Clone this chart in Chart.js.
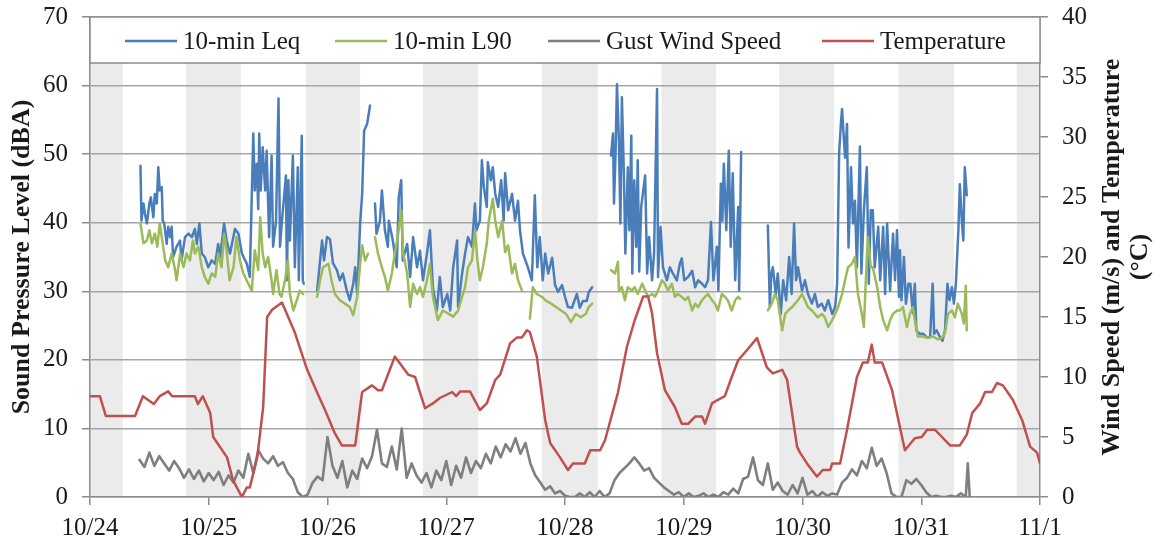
<!DOCTYPE html>
<html>
<head>
<meta charset="utf-8">
<script src="https://cdn.jsdelivr.net/npm/chart.js@4.4.1/dist/chart.umd.min.js"></script>
<style>
html,body{margin:0;padding:0;background:#fff;}
canvas{display:block;}
</style>
</head>
<body>
<canvas id="c" width="1163" height="544"></canvas>
<script>
// ---------- DATA (time = hours since 10/24 00:00) ----------
const dateLabels = ['10/24','10/25','10/26','10/27','10/28','10/29','10/30','10/31','11/1'];
const nightBands = [[0,6.6],[19.4,30.5],[43.6,54.6],[67.3,78.5],[91.3,102.6],[115.5,126.5],[139.3,150.4],[163.4,174.6],[187.3,192]];
const seriesNames = ['10-min Leq','10-min L90','Gust Wind Speed','Temperature'];

const leq = [
[10.2,48.3],[10.4,40.3],[10.8,42.8],[11.1,41.3],[11.5,39.9],[12.0,42.8],[12.3,43.7],[12.8,40.8],[13.1,44.2],[13.5,42.8],[13.8,48.1],[14.1,44.7],[14.5,45.2],[14.7,40.3],[15.0,39.9],[15.5,36.9],[15.8,39.4],[16.2,37.9],[16.5,39.4],[16.8,35.0],[17.5,36.5],[18.2,37.4],[18.5,34.5],[19.2,37.9],[19.9,38.4],[20.6,37.9],[21.2,39.1],[21.6,36.9],[22.1,39.9],[22.6,35.5],[23.2,35.0],[23.9,33.5],[24.6,34.5],[25.3,34.0],[25.9,36.9],[26.3,35.0],[27.1,39.9],[27.6,37.4],[28.3,35.5],[29.3,39.1],[30.0,38.4],[30.7,35.5],[31.7,34.0],[32.3,32.1],[33.0,53.0],[33.3,44.7],[33.7,48.6],[34.0,42.0],[34.2,53.0],[34.5,44.7],[34.9,51.0],[35.4,44.7],[35.7,50.5],[36.2,37.9],[36.7,49.8],[37.0,36.5],[37.6,40.3],[38.1,58.1],[38.4,36.5],[38.8,40.3],[39.6,46.9],[39.8,31.6],[40.1,46.2],[40.4,37.4],[41.0,49.8],[41.4,33.5],[42.0,48.1],[42.2,31.6],[42.8,52.7],[43.0,31.6],[43.2,31.1],
[44.0,null],
[45.9,30.1],[46.9,37.4],[47.3,34.5],[47.9,37.9],[48.5,37.6],[49.1,34.1],[49.9,33.1],[50.5,31.6],[51.1,32.6],[51.9,30.1],[52.5,28.7],[53.2,31.1],[53.6,33.5],[54.0,29.6],[54.6,39.9],[55.0,44.2],[55.4,53.4],[56.0,54.4],[56.6,57.1],
[57.1,null],
[57.6,42.8],[57.9,38.4],[58.6,40.3],[59.0,44.7],[59.6,38.9],[60.2,36.5],[60.4,40.3],[61.2,37.4],[62.0,33.5],[62.4,43.7],[62.9,46.2],[63.2,34.5],[64.1,36.9],[64.7,32.1],[65.3,37.9],[66.1,33.5],[66.7,35.9],[67.3,31.6],[68.1,35.5],[68.7,38.9],[69.3,30.6],[70.1,27.2],[70.7,32.1],[71.3,27.7],[72.2,29.6],[72.8,27.2],[73.4,33.5],[74.2,37.4],[74.4,27.7],[75.2,32.6],[75.8,35.5],[76.4,37.9],[77.2,36.5],[77.8,42.8],[78.1,38.9],[78.8,40.3],[79.2,49.1],[79.6,45.2],[80.2,42.3],[80.4,48.8],[81.0,46.2],[81.4,48.1],[81.9,44.2],[82.5,42.3],[83.1,46.2],[83.6,40.3],[83.9,47.2],[84.5,41.8],[85.3,44.2],[85.9,40.3],[86.5,43.2],[86.9,38.9],[87.5,35.5],[88.5,33.5],[89.3,31.6],[89.9,44.0],[90.4,33.5],[90.9,37.9],[91.5,31.6],[92.0,35.5],[92.6,32.6],[93.4,34.9],[94.0,30.9],[94.6,29.9],[95.4,30.9],[96.0,29.2],[96.6,27.7],[97.4,27.6],[98.4,29.6],[99.0,27.6],[99.6,28.6],[100.4,28.6],[100.8,29.9],[101.5,30.6],
[103.0,null],
[105.3,49.8],[105.7,53.0],[105.9,42.8],[106.2,49.6],[106.5,60.2],[106.9,52.0],[107.2,39.9],[107.5,58.3],[107.9,47.1],[108.2,35.5],[108.7,48.1],[109.0,38.9],[109.4,52.7],[109.6,32.6],[110.0,46.2],[110.4,36.5],[110.7,49.1],[111.0,32.9],[111.4,42.3],[112.2,46.9],[112.6,32.6],[113.0,37.9],[113.6,31.6],[114.0,35.5],[114.6,59.5],[114.8,32.1],[115.3,39.4],[115.8,33.5],[116.6,31.6],[117.2,33.5],[117.8,32.6],[118.6,31.6],[119.2,34.0],[119.6,34.8],[120.1,31.6],[120.9,32.1],[121.7,33.0],[122.3,30.6],[122.9,31.6],[123.7,31.1],[124.3,30.6],[124.9,31.6],[125.5,40.1],[126.0,31.6],[126.7,36.5],[127.0,30.1],[127.5,45.7],[127.8,40.3],[128.1,48.6],[128.6,38.9],[129.1,50.5],[129.5,36.5],[129.9,47.2],[130.4,31.6],[131.0,42.3],[131.2,30.1],[131.6,50.3],
[134.0,null],
[137.0,39.6],[137.4,27.7],[137.7,32.6],[138.0,33.5],[138.6,29.6],[139.0,32.6],[139.6,26.7],[140.1,31.6],[140.7,28.7],[141.3,35.0],[141.8,29.6],[142.3,39.9],[142.7,31.6],[143.1,33.5],[143.9,30.1],[144.5,31.6],[145.1,29.6],[145.9,28.2],[146.5,29.6],[147.1,27.7],[147.9,28.2],[148.5,27.2],[149.2,28.7],[150.0,26.7],[150.6,27.7],[151.0,31.1],[151.4,50.1],[151.8,54.9],[152.0,56.6],[152.3,52.9],[152.6,49.5],[153.0,54.4],[153.3,36.4],[153.8,48.1],[154.2,39.9],[154.6,43.2],[155.0,33.5],[155.6,51.1],[155.9,32.6],[156.4,41.8],[157.0,48.1],[157.4,31.1],[157.8,41.8],[158.2,41.8],[158.6,33.5],[159.3,39.4],[159.7,31.6],[160.3,39.4],[160.7,29.6],[161.1,39.9],[161.7,30.1],[162.3,38.4],[162.7,31.6],[163.1,38.9],[163.5,29.2],[163.7,36.0],[164.0,28.7],[164.5,35.0],[164.9,28.2],[165.4,31.1],[165.8,31.1],[166.3,26.8],[166.7,31.1],[167.0,24.3],[167.7,23.8],[168.4,23.8],[169.1,23.3],[169.8,23.3],[170.3,31.1],[170.6,23.8],[171.1,24.3],[171.8,23.3],[172.3,22.8],[172.8,24.3],[173.3,31.1],[173.7,28.7],[174.2,30.6],[174.6,28.2],[175.0,31.1],[175.5,38.9],[175.8,45.6],[176.2,40.3],[176.5,37.4],[176.8,48.1],[177.2,44.0]
];

const l90 = [
[10.2,39.9],[10.8,37.0],[11.5,37.4],[12.0,38.9],[12.5,37.0],[13.1,38.4],[13.6,36.5],[14.1,39.9],[14.5,37.9],[15.2,34.5],[15.8,33.5],[16.5,35.5],[17.2,33.1],[17.5,31.6],[18.2,35.5],[18.9,33.5],[19.5,35.5],[20.2,34.5],[20.8,37.4],[21.2,35.5],[21.9,36.5],[22.6,33.5],[23.2,32.1],[23.9,31.1],[24.6,32.6],[25.3,32.1],[25.9,35.5],[26.6,33.5],[27.1,38.4],[27.6,36.0],[28.2,31.6],[29.0,33.5],[29.6,37.9],[30.3,34.5],[31.0,32.6],[32.0,31.1],[32.7,30.1],[33.3,36.0],[34.0,33.1],[34.4,40.8],[34.9,35.5],[35.4,33.5],[36.0,35.0],[36.7,31.6],[37.0,29.6],[37.7,33.1],[38.3,29.6],[38.7,29.2],[39.4,31.6],[40.0,34.5],[40.4,29.6],[41.1,27.2],[41.8,28.7],[42.4,30.1],[43.1,29.6],
[44.0,null],
[45.9,29.2],[46.5,31.6],[47.1,33.5],[48.2,34.0],[48.8,31.6],[49.5,29.6],[50.5,28.7],[51.5,28.2],[52.5,27.7],[53.2,26.5],[54.0,29.2],[54.6,34.0],[55.0,36.7],[55.6,34.5],[56.2,35.5],
[57.1,null],
[57.6,37.9],[58.2,35.5],[59.0,33.5],[59.6,32.1],[60.2,30.1],[61.0,32.6],[61.6,35.5],[62.2,37.9],[62.9,41.8],[63.3,35.5],[64.1,32.6],[64.7,27.7],[65.3,31.1],[66.1,29.6],[66.7,30.6],[67.3,29.2],[68.1,31.6],[68.7,34.0],[69.3,29.2],[70.3,25.8],[71.3,27.2],[72.3,26.8],[73.4,26.3],[74.4,27.2],[75.2,29.2],[75.8,30.6],[76.4,33.5],[77.2,34.5],[77.8,38.9],[78.3,34.5],[78.8,31.6],[79.4,33.5],[80.2,37.0],[80.6,40.3],[81.4,43.5],[81.9,40.3],[82.5,37.9],[83.3,40.3],[83.9,35.7],[84.5,36.7],[85.3,32.6],[85.9,34.0],[86.5,31.6],[87.3,30.1],
[88.0,null],
[88.9,26.0],[89.5,30.6],[90.3,29.6],[91.3,29.2],[92.2,28.6],[93.2,28.2],[94.2,27.7],[95.2,27.2],[96.2,26.7],[97.2,25.5],[98.2,26.7],[99.2,26.2],[100.2,26.7],[100.8,27.7],[101.5,28.2],
[103.0,null],
[105.3,33.1],[106.1,32.6],[106.7,34.3],[106.9,30.1],[107.5,30.6],[108.1,28.7],[108.7,30.6],[109.5,30.1],[110.1,30.6],[110.7,29.6],[111.6,31.1],[112.2,30.1],[112.8,29.2],[113.6,29.6],[114.2,29.2],[114.8,30.1],[115.6,31.6],[116.2,31.1],[116.8,30.1],[117.6,31.1],[118.2,29.2],[118.8,29.6],[119.6,29.2],[120.3,28.7],[120.9,29.2],[121.7,27.2],[122.3,28.2],[122.9,27.7],[123.7,28.7],[124.3,29.2],[124.9,29.6],[125.7,28.7],[126.3,28.2],[126.9,27.2],[127.7,29.6],[128.3,29.2],[128.9,28.7],[129.7,27.2],[130.4,28.7],[131.0,29.2],[131.4,28.9],
[134.0,null],
[137.0,27.2],[137.8,28.2],[138.4,29.6],[139.0,28.7],[139.9,24.3],[140.5,26.7],[141.1,27.2],[141.9,27.7],[142.5,28.2],[143.1,28.7],[143.9,29.6],[144.5,28.7],[145.1,27.7],[145.9,27.2],[146.5,26.7],[147.1,26.2],[147.9,26.7],[148.5,26.2],[149.2,24.8],[150.0,25.8],[150.6,26.7],[151.2,27.7],[152.0,29.6],[152.6,31.6],[153.2,33.5],[154.0,34.0],[154.6,35.0],[155.2,29.6],[156.0,26.7],[156.4,24.8],[156.8,31.6],[157.2,37.9],[157.8,33.5],[158.2,33.5],[159.1,30.6],[159.7,27.7],[160.3,25.8],[161.1,24.3],[161.7,25.8],[162.3,26.7],[163.1,27.2],[163.7,27.2],[164.3,27.7],[165.1,24.8],[165.7,26.7],[166.3,27.7],[166.7,25.8],[167.3,23.4],[168.3,23.4],[169.4,23.2],[170.4,23.4],[171.4,23.0],[172.2,23.2],[172.8,23.9],[173.4,26.7],[174.2,27.2],[174.8,26.2],[175.4,28.2],[176.2,26.7],[176.6,25.3],[177.0,30.8],[177.2,24.3]
];

// hourly gust wind speed (m/s), first value at hour 10
const gustStartHour = 10;
const gust = [
3.1,2.5,3.7,2.6,3.4, 2.8,2.2,3.0,2.4,1.6, 2.3,1.5,2.2,1.3,2.0, 1.4,2.1,1.0,1.8,1.2,
2.2,1.6,3.6,2.0,3.9, 3.2,2.8,3.4,2.6,2.9, 2.0,1.5,0.4,0.0,0.2, 1.2,1.7,1.4,5.0,2.6,
1.6,3.0,0.8,2.2,1.5, 3.2,2.4,3.4,5.6,2.8, 2.5,4.2,2.3,5.7,1.6, 2.8,1.8,1.2,2.0,0.8,
2.2,1.4,3.0,1.0,2.6, 1.6,3.3,2.0,3.0,2.4, 3.6,2.8,4.2,3.3,4.4, 3.8,4.9,3.6,4.5,2.8,
1.8,1.2,0.6,0.9,0.3, 0.5,0.1,0.0,0.0,0.3, 0.0,0.4,0.0,0.5,0.0, 0.3,1.4,2.0,2.4,2.8,
3.3,2.8,2.2,2.4,1.6, 1.2,0.8,0.5,0.2,0.4, 0.0,0.3,0.0,0.1,0.3, 0.0,0.2,0.0,0.4,0.2,
0.7,0.3,1.5,1.7,3.3, 1.4,1.0,2.8,0.6,1.2, 0.5,0.2,1.0,0.3,1.6, 0.2,0.5,0.0,0.4,0.1,
0.3,0.2,1.2,1.6,2.3, 1.8,3.0,2.4,4.1,2.6, 3.2,2.0,0.3,0.0,0.0, 1.4,1.1,1.5,1.0,0.4,
0.0,0.1,0.0,0.0,0.1, 0.0,0.3,0.0
];
const gustTail = [[177.4,2.8],[177.8,0.0]];

const temperature = [
[0,8.4],[2.0,8.4],[3.2,6.75],[9.1,6.75],[10.7,8.4],[12.9,7.75],[14.1,8.4],[15.8,8.8],[16.6,8.4],[21.2,8.4],[21.8,7.75],[22.8,8.4],[24.3,7.0],[24.9,5.0],[27.7,3.3],[28.9,1.4],[30.7,0],[31.7,0.8],[32.3,0.8],[33.8,3.3],[35.0,7.5],[35.8,15.0],[36.8,15.6],[38.8,16.2],[41.4,13.7],[43.9,10.6],[45.9,8.7],[47.5,7.25],[49.5,5.3],[50.9,4.3],[53.6,4.3],[55.0,8.75],[57.0,9.3],[58.2,8.9],[59.0,8.9],[61.6,11.7],[64.3,10.2],[65.7,10.0],[67.7,7.4],[69.3,7.8],[70.7,8.25],[73.2,8.75],[74.0,8.4],[74.8,8.8],[76.8,8.8],[78.8,7.25],[80.2,7.8],[81.9,9.75],[82.9,10.2],[84.9,12.8],[86.3,13.3],[87.3,13.3],[88.3,13.9],[88.9,13.75],[90.3,11.7],[92.0,6.4],[93.0,4.5],[95.0,3.3],[96.6,2.25],[97.6,2.8],[100.0,2.8],[101.1,3.9],[103.1,3.9],[104.1,4.75],[106.7,8.7],[108.5,12.5],[110.1,14.75],[111.8,16.7],[112.8,16.7],[113.6,15.3],[114.6,12],[116.2,8.9],[118.2,7.5],[119.6,6.1],[120.9,6.1],[122.3,6.7],[123.7,6.7],[124.3,6.1],[125.7,7.8],[126.9,8.1],[128.3,8.4],[129.7,10],[131.0,11.4],[132.8,12.25],[134.8,13.25],[136.8,10.8],[138.0,10.3],[139.9,10.6],[140.9,9.75],[142.9,4.2],[143.5,3.7],[144.9,2.8],[146.9,1.7],[148.1,2.25],[149.6,2.25],[150.0,2.8],[151.6,2.8],[153.0,5.6],[155.0,10],[156.2,11.2],[157.2,11.2],[158.0,12.7],[158.6,11.2],[160.1,11.2],[162.1,8.9],[163.7,5.8],[164.7,3.9],[166.7,4.9],[168.1,5.0],[169.2,5.6],[170.8,5.6],[172.2,5.0],[173.8,4.3],[175.8,4.3],[177.2,5.2],[178.3,7.0],[179.9,7.8],[180.9,8.75],[182.3,8.75],[183.3,9.5],[184.5,9.3],[186.5,8.1],[188.4,6.4],[190.0,4.2],[191.4,3.7],[192.0,2.8]
];

// ---------- STYLE ----------
const FONT = '"Liberation Serif", "DejaVu Serif", serif';
const colors = ['#4a7ebb', '#9bbb59', '#7f7f7f', '#c0504d'];
const gridColor = '#a6a6a6';
const axisColor = '#8c8c8c';
const textColor = '#1a1a1a';

const toXY = arr => arr.map(([x, y]) => ({x, y}));
const gustData = gust.map((v, i) => ({x: gustStartHour + i, y: v})).concat(toXY(gustTail));

const decor = {
  id: 'decor',
  beforeDraw(chart) {
    const {ctx, chartArea: a, scales: {x}} = chart;
    ctx.save();
    ctx.fillStyle = '#fff';
    ctx.fillRect(0, 0, chart.width, chart.height);
    ctx.fillStyle = '#ebebeb';
    nightBands.forEach(([s, e]) => {
      const x1 = x.getPixelForValue(s), x2 = x.getPixelForValue(e);
      ctx.fillRect(x1, a.top, x2 - x1, a.bottom - a.top);
    });
    ctx.restore();
  },
  afterDraw(chart) {
    const {ctx, chartArea: a} = chart;
    ctx.save();
    // legend box
    const lh = 46;
    ctx.fillStyle = '#fff';
    ctx.fillRect(a.left, a.top, a.right - a.left, lh);
    ctx.strokeStyle = axisColor;
    ctx.lineWidth = 1.5;
    ctx.strokeRect(a.left, a.top, a.right - a.left, lh);
    const items = [125, 335, 548, 822];
    const ly = a.top + 24;
    ctx.font = '25px ' + FONT;
    ctx.textBaseline = 'middle';
    ctx.textAlign = 'left';
    items.forEach((x0, i) => {
      ctx.strokeStyle = colors[i];
      ctx.lineWidth = 2.5;
      ctx.beginPath();
      ctx.moveTo(x0, ly);
      ctx.lineTo(x0 + 52, ly);
      ctx.stroke();
      ctx.fillStyle = textColor;
      ctx.fillText(seriesNames[i], x0 + 58, ly + 1);
    });
    // axis titles
    const cy = (a.top + a.bottom) / 2;
    ctx.font = 'bold 26px ' + FONT;
    ctx.textAlign = 'center';
    ctx.fillStyle = textColor;
    ctx.translate(22, cy);
    ctx.rotate(-Math.PI / 2);
    ctx.fillText('Sound Pressure Level (dBA)', 0, 0);
    ctx.setTransform(1, 0, 0, 1, 0, 0);
    ctx.translate(1112, cy);
    ctx.rotate(-Math.PI / 2);
    ctx.fillText('Wind Speed (m/s) and Temperature', 0, 0);
    ctx.setTransform(1, 0, 0, 1, 0, 0);
    ctx.translate(1140, cy);
    ctx.rotate(-Math.PI / 2);
    ctx.fillText('(°C)', 0, 0);
    ctx.restore();
  }
};

const tickFont = {family: FONT, size: 25};
const noVertPad = s => { s.paddingTop = 0; s.paddingBottom = 0; };

new Chart(document.getElementById('c'), {
  type: 'line',
  data: {
    datasets: [
      {label: seriesNames[0], data: toXY(leq), borderColor: colors[0], yAxisID: 'y', order: 4},
      {label: seriesNames[1], data: toXY(l90), borderColor: colors[1], yAxisID: 'y', order: 3},
      {label: seriesNames[2], data: gustData, borderColor: colors[2], yAxisID: 'y1', order: 2, borderWidth: 2.6},
      {label: seriesNames[3], data: toXY(temperature), borderColor: colors[3], yAxisID: 'y1', order: 1}
    ]
  },
  options: {
    responsive: false,
    animation: false,
    devicePixelRatio: 1,
    spanGaps: false,
    layout: {padding: {top: 17, left: 0, right: 0, bottom: 0}},
    elements: {
      point: {radius: 0, hoverRadius: 0},
      line: {borderWidth: 2.5, tension: 0, borderJoinStyle: 'round', borderCapStyle: 'round'}
    },
    plugins: {legend: {display: false}, tooltip: {enabled: false}, title: {display: false}},
    events: [],
    scales: {
      x: {
        type: 'linear', min: 0, max: 192,
        afterBuildTicks(s) { s.ticks = dateLabels.map((_, i) => ({value: i * 24})); },
        ticks: {callback: v => dateLabels[Math.round(v / 24)], font: tickFont, color: textColor, padding: 8, maxRotation: 0, autoSkip: false},
        grid: {drawOnChartArea: false, drawTicks: true, tickLength: 8, color: axisColor, lineWidth: 1.5},
        border: {display: true, color: axisColor, width: 1.5},
        afterFit(s) { s.height = 47; s.paddingLeft = 0; s.paddingRight = 0; }
      },
      y: {
        position: 'left', min: 0, max: 70,
        ticks: {stepSize: 10, font: tickFont, color: textColor, padding: 14},
        grid: {color: gridColor, lineWidth: 1.5, drawTicks: true, tickLength: 8, tickColor: axisColor},
        border: {display: true, color: axisColor, width: 1.5},
        afterFit(s) { s.width = 90; noVertPad(s); }
      },
      y1: {
        position: 'right', min: 0, max: 40,
        ticks: {stepSize: 5, font: tickFont, color: textColor, padding: 14},
        grid: {drawOnChartArea: false, drawTicks: true, tickLength: 8, color: axisColor, lineWidth: 1.5},
        border: {display: true, color: axisColor, width: 1.5},
        afterFit(s) { s.width = 123; noVertPad(s); }
      }
    }
  },
  plugins: [decor]
});
</script>
</body>
</html>
